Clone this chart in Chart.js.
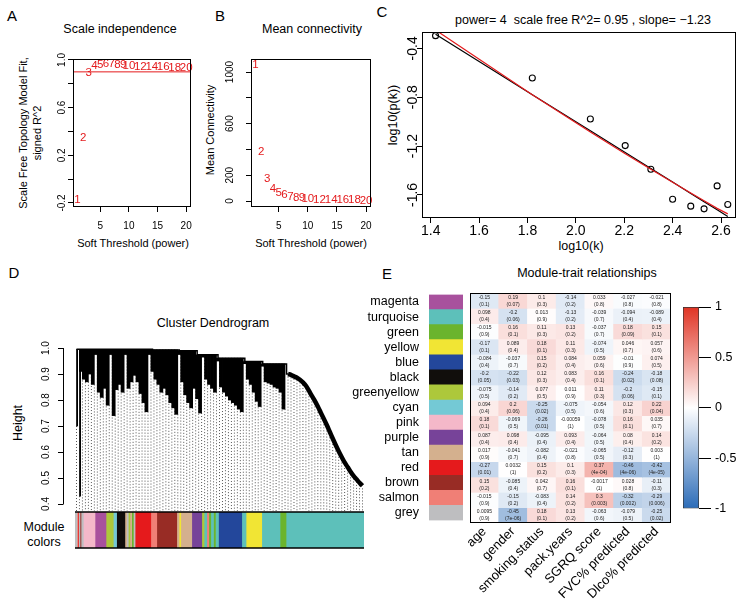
<!DOCTYPE html>
<html>
<head>
<meta charset="utf-8">
<script src="https://cdn.jsdelivr.net/npm/chart.js@4.4.1/dist/chart.umd.min.js"></script>
<style>
  html, body { margin: 0; padding: 0; background: #fff; }
  #page { position: relative; width: 750px; height: 606px; overflow: hidden; font-family: 'Liberation Sans', Arial, sans-serif; color: #000; }
  canvas { position: absolute; }
  .t { position: absolute; transform: translate(-50%, -50%); white-space: nowrap; font-size: 12.5px; line-height: 1; }
  .v { transform: translate(-50%, -50%) rotate(-90deg); }
  .lab { font-size: 15px; }
  .ax { font-size: 11px; }
</style>
</head>
<body>
<div id="page">
  <div class="t lab" style="left:12px;top:15px">A</div>
  <div class="t lab" style="left:220px;top:15px">B</div>
  <div class="t lab" style="left:382px;top:11px">C</div>
  <div class="t lab" style="left:14px;top:272px">D</div>
  <div class="t lab" style="left:387px;top:273px">E</div>

  <div class="t" style="left:120px;top:29px">Scale independence</div>
  <div class="t" style="left:312px;top:29px">Mean connectivity</div>
  <div class="t" style="left:583px;top:20px">power= 4&nbsp; scale free R^2= 0.95 , slope= −1.23</div>
  <div class="t" style="left:213px;top:323px">Cluster Dendrogram</div>
  <div class="t" style="left:587px;top:273px">Module-trait relationships</div>

  <div class="t ax" style="left:133px;top:243px">Soft Threshold (power)</div>
  <div class="t ax v" style="left:23px;top:133px">Scale Free Topology Model Fit,</div>
  <div class="t ax v" style="left:37px;top:133px">signed R^2</div>
  <div class="t ax" style="left:311px;top:243px">Soft Threshold (power)</div>
  <div class="t ax v" style="left:210px;top:130px">Mean Connectivity</div>
  <div class="t" style="left:581px;top:246px">log10(k)</div>
  <div class="t v" style="left:393px;top:115px">log10(p(k))</div>
  <div class="t v" style="left:18px;top:423px">Height</div>
  <div class="t" style="left:44px;top:527px">Module</div>
  <div class="t" style="left:44px;top:542px">colors</div>
</div>
<script>
// ---- A / B : soft threshold scan ----
const powers = [1, 2, 3, 4, 5, 6, 7, 8, 9, 10, 12, 14, 16, 18, 20];
const sftR2 = [-0.175, 0.35, 0.89, 0.95, 0.96, 0.965, 0.965, 0.96, 0.955, 0.95, 0.945, 0.94, 0.94, 0.935, 0.93];
const meanK = [1059, 382, 176, 98, 62, 45, 35, 28, 22, 17, 12, 9, 7, 6, 5];
const r2Cut = 0.9;
const powerTicks = [5, 10, 15, 20];
const aYTicks = [-0.2, 0, 0.2, 0.4, 0.6, 0.8, 1.0];
const aYLabels = ['-0.2', '', '0.2', '', '0.6', '', '1.0'];
const bYTicks = [0, 200, 400, 600, 800, 1000];
const bYLabels = ['0', '200', '', '600', '', '1000'];

// ---- C : scale free fit at power 4 ----
const logK = [1.42, 1.82, 2.06, 2.204, 2.31, 2.40, 2.475, 2.53, 2.584, 2.628];
const logPk = [-0.296, -0.643, -0.978, -1.196, -1.39, -1.635, -1.692, -1.714, -1.526, -1.679];
const fitLinear = [-0.285, -0.779, -1.075, -1.253, -1.384, -1.495, -1.588, -1.656, -1.722, -1.777];
const fitTrunc = [-0.25, -0.78, -1.085, -1.262, -1.39, -1.497, -1.585, -1.648, -1.71, -1.755];
const cXTicks = [1.4, 1.6, 1.8, 2.0, 2.2, 2.4, 2.6];
const cYTicks = [-1.6, -1.2, -0.8, -0.4];

// ---- D : dendrogram, leaves 0..96 in tree order ----
// merge height of each leaf (top) and height where the leaf ends (bottom)
const leafTop = [
  0.995, 0.995, 0.995, 0.995, 0.995, 0.995, 0.995, 0.995, 0.995, 0.995,
  0.995, 0.995, 0.995, 0.995, 0.995, 0.995, 0.995, 0.995, 0.995, 0.995,
  0.995, 0.995, 0.995, 0.995, 0.995, 0.995, 0.993, 0.993, 0.993, 0.993,
  0.993, 0.993, 0.993, 0.993, 0.993, 0.99, 0.99, 0.99, 0.99, 0.99,
  0.99, 0.974, 0.974, 0.974, 0.974, 0.974, 0.974, 0.974, 0.961, 0.961,
  0.961, 0.961, 0.961, 0.961, 0.961, 0.961, 0.961, 0.948, 0.948, 0.948,
  0.948, 0.948, 0.948, 0.939, 0.939, 0.939, 0.939, 0.939, 0.939, 0.939,
  0.939, 0.900, 0.897, 0.891, 0.886, 0.878, 0.868, 0.855, 0.836, 0.816,
  0.797, 0.775, 0.751, 0.728, 0.704, 0.678, 0.652, 0.627, 0.603, 0.581,
  0.560, 0.542, 0.524, 0.508, 0.495, 0.482, 0.470
];
const leafBottom = [
  0.70, 0.43, 0.91, 0.88, 0.87, 0.90, 0.86, 0.975, 0.83, 0.81,
  0.845, 0.78, 0.975, 0.74, 0.84, 0.86, 0.83, 0.975, 0.845, 0.87,
  0.895, 0.87, 0.825, 0.79, 0.755, 0.975, 0.91, 0.88, 0.86, 0.83,
  0.845, 0.82, 0.79, 0.77, 0.745, 0.975, 0.87, 0.82, 0.79, 0.77,
  0.845, 0.805, 0.75, 0.965, 0.88, 0.86, 0.845, 0.83, 0.95, 0.85,
  0.83, 0.815, 0.80, 0.79, 0.78, 0.765, 0.755, 0.94, 0.88, 0.86,
  0.83, 0.795, 0.775, 0.93, 0.87, 0.865, 0.86, 0.85, 0.845, 0.83,
  0.765, 0.89, 0.887, 0.881, 0.876, 0.868, 0.858, 0.845, 0.826, 0.806,
  0.787, 0.765, 0.741, 0.718, 0.694, 0.668, 0.642, 0.617, 0.593, 0.571,
  0.55, 0.532, 0.514, 0.498, 0.485, 0.472, 0.46
];
const thinLeaves = [0, 1];      // single long leaves at the far left
const trunkStart = 71;          // leaves from here on form the big turquoise branch
const dYTicks = [0.4, 0.5, 0.6, 0.7, 0.8, 0.9, 1.0];
const dYMin = 0.373, dYMax = 1.031;

// module colour strip under the tree (colour name, width in px of the strip)
const segColors = ['grey', 'salmon', 'red', 'grey', 'brown', 'grey', 'pink', 'magenta', 'greenyellow', 'cyan',
  'black', 'tan', 'grey', 'greenyellow', 'tan', 'green', 'grey', 'red', 'salmon', 'brown',
  'tan', 'yellow', 'tan', 'purple', 'greenyellow', 'turquoise', 'salmon', 'green', 'turquoise', 'green',
  'turquoise', 'blue', 'turquoise', 'yellow', 'turquoise', 'green', 'turquoise'];
const segWidths = [2, 1, 0.7, 1.3, 1, 2.3, 11.7, 11, 7.3, 3.3,
  8.3, 1.7, 1.7, 1.7, 1.7, 1.7, 1.7, 15.7, 6, 20,
  2.3, 1.7, 11, 10, 2.3, 2.7, 2, 2, 2.7, 2,
  3, 23.3, 4.3, 15.7, 18.3, 6, 78];

// ---- E : module-trait correlations ----
const modules = ['magenta', 'turquoise', 'green', 'yellow', 'blue', 'black', 'greenyellow', 'cyan',
  'pink', 'purple', 'tan', 'red', 'brown', 'salmon', 'grey'];
const moduleColors = ['#A8519D', '#5DC0BA', '#6BB42D', '#F1E534', '#23479B', '#110E0C', '#ADC83B', '#74C9D5',
  '#F4B8C9', '#774399', '#D4B08E', '#E51A1C', '#982C25', '#F07F76', '#BEBEC0'];
const traits = ['age', 'gender', 'smoking.status', 'pack.years', 'SGRQ score', 'FVC% predicted', 'Dlco% predicted'];
const corr = [
  [-0.15, 0.19, 0.1, -0.14, 0.033, -0.027, -0.021],
  [0.098, -0.2, 0.013, -0.13, -0.039, -0.094, -0.089],
  [-0.015, 0.16, 0.11, 0.13, -0.037, 0.18, 0.15],
  [-0.17, 0.089, 0.18, 0.11, -0.074, 0.046, 0.057],
  [-0.084, -0.037, 0.15, 0.084, 0.059, -0.01, 0.074],
  [-0.2, -0.22, 0.12, 0.083, 0.16, -0.24, -0.18],
  [-0.075, -0.14, 0.077, 0.011, 0.11, -0.2, -0.15],
  [0.094, 0.2, -0.25, -0.075, -0.054, 0.12, 0.22],
  [0.18, -0.069, -0.26, -0.00059, -0.078, 0.16, 0.035],
  [0.087, 0.098, -0.095, 0.093, -0.064, 0.08, 0.14],
  [0.017, -0.041, -0.082, -0.021, -0.065, -0.12, 0.003],
  [-0.27, 0.0032, 0.15, 0.1, 0.37, -0.46, -0.42],
  [0.15, -0.085, 0.042, 0.16, -0.0017, 0.028, -0.11],
  [-0.015, -0.15, -0.083, 0.14, 0.3, -0.32, -0.29],
  [0.0095, -0.45, 0.18, 0.13, -0.063, -0.079, -0.25]
];
const pText = [
  ['(0.1)', '(0.07)', '(0.3)', '(0.2)', '(0.8)', '(0.8)', '(0.8)'],
  ['(0.4)', '(0.06)', '(0.9)', '(0.2)', '(0.7)', '(0.4)', '(0.4)'],
  ['(0.9)', '(0.1)', '(0.3)', '(0.2)', '(0.7)', '(0.09)', '(0.1)'],
  ['(0.1)', '(0.4)', '(0.1)', '(0.3)', '(0.5)', '(0.7)', '(0.6)'],
  ['(0.4)', '(0.7)', '(0.2)', '(0.4)', '(0.6)', '(0.9)', '(0.5)'],
  ['(0.05)', '(0.03)', '(0.3)', '(0.4)', '(0.1)', '(0.02)', '(0.08)'],
  ['(0.5)', '(0.2)', '(0.5)', '(0.9)', '(0.3)', '(0.06)', '(0.1)'],
  ['(0.4)', '(0.06)', '(0.02)', '(0.5)', '(0.6)', '(0.3)', '(0.04)'],
  ['(0.1)', '(0.5)', '(0.01)', '(1)', '(0.5)', '(0.1)', '(0.7)'],
  ['(0.4)', '(0.4)', '(0.4)', '(0.4)', '(0.5)', '(0.4)', '(0.2)'],
  ['(0.9)', '(0.7)', '(0.4)', '(0.8)', '(0.5)', '(0.3)', '(1)'],
  ['(0.01)', '(1)', '(0.2)', '(0.3)', '(4e-04)', '(4e-06)', '(4e-05)'],
  ['(0.2)', '(0.4)', '(0.7)', '(0.1)', '(1)', '(0.8)', '(0.3)'],
  ['(0.9)', '(0.2)', '(0.4)', '(0.2)', '(0.003)', '(0.002)', '(0.006)'],
  ['(0.9)', '(7e-06)', '(0.1)', '(0.2)', '(0.6)', '(0.5)', '(0.02)']
];
const legendTicks = [-1, -0.5, 0, 0.5, 1];

const FONT = "'Liberation Sans', Arial, sans-serif";
const RED = '#E41A1C';
const heatNeg = [44, 108, 184], heatPos = [224, 52, 36];

Chart.defaults.font.family = FONT;
Chart.defaults.color = '#000';
Chart.defaults.animation = false;
Chart.defaults.events = [];
Chart.defaults.plugins.legend.display = false;
Chart.defaults.plugins.tooltip.enabled = false;

function heatColor(v){
  const end = v < 0 ? heatNeg : heatPos;
  const t = Math.min(1, Math.abs(v));
  return 'rgb(' + end.map(k => Math.round(255 + (k - 255) * t)).join(',') + ')';
}

function canvasAt(left, top, w, h){
  const c = document.createElement('canvas');
  c.width = w; c.height = h;
  c.style.left = left + 'px'; c.style.top = top + 'px';
  c.style.width = w + 'px'; c.style.height = h + 'px';
  document.getElementById('page').appendChild(c);
  return c;
}

// R-like extras: box, rotated y labels, free axis line, point text, cell text
const rPlot = {
  id: 'rPlot',
  afterDatasetsDraw(chart, args, o){
    const ctx = chart.ctx;
    if(o.pointText){
      const pt = o.pointText;
      const meta = chart.getDatasetMeta(pt.dataset);
      ctx.save();
      ctx.fillStyle = pt.color;
      ctx.font = pt.size + 'px ' + FONT;
      ctx.textAlign = 'center'; ctx.textBaseline = 'middle';
      meta.data.forEach((el, i) => ctx.fillText(pt.texts[i], el.x, el.y));
      ctx.restore();
    }
    if(o.cellText){
      const ct = o.cellText;
      ctx.save();
      ctx.font = ct.size + 'px ' + FONT;
      ctx.fillStyle = '#222';
      ctx.textAlign = 'center'; ctx.textBaseline = 'middle';
      chart.data.datasets.forEach((ds, r) => {
        chart.getDatasetMeta(r).data.forEach((el, c) => {
          const yc = (el.y + el.base) / 2;
          ctx.fillText(String(ct.corr[r][c]), el.x, yc - 3.3);
          ctx.fillText(ct.p[r][c], el.x, yc + 3.7);
        });
      });
      ctx.restore();
    }
  },
  afterDraw(chart, args, o){
    const ctx = chart.ctx, ca = chart.chartArea;
    ctx.save();
    ctx.strokeStyle = '#000'; ctx.lineWidth = 1;
    if(o.box){
      ctx.strokeRect(Math.round(ca.left) + 0.5, Math.round(ca.top) + 0.5,
        Math.round(ca.right - ca.left) - 1, Math.round(ca.bottom - ca.top) - 1);
    }
    if(o.hLines){
      ctx.lineWidth = o.hLines;
      ctx.beginPath();
      ctx.moveTo(ca.left, ca.top); ctx.lineTo(ca.right, ca.top);
      ctx.moveTo(ca.left, ca.bottom); ctx.lineTo(ca.right, ca.bottom);
      ctx.stroke();
    }
    if(o.axisLine){
      const a = o.axisLine, s = chart.scales.y;
      ctx.beginPath();
      ctx.moveTo(a.x + 0.5, s.getPixelForValue(a.from));
      ctx.lineTo(a.x + 0.5, s.getPixelForValue(a.to));
      a.values.forEach(v => {
        const y = Math.round(s.getPixelForValue(v)) + 0.5;
        ctx.moveTo(a.x + 0.5, y); ctx.lineTo(a.x - a.tick, y);
      });
      ctx.stroke();
    }
    if(o.yLabels){
      const yl = o.yLabels, s = chart.scales.y;
      ctx.fillStyle = '#000';
      ctx.font = yl.size + 'px ' + FONT;
      ctx.textAlign = 'center'; ctx.textBaseline = 'middle';
      yl.values.forEach((v, i) => {
        const txt = yl.texts[i];
        if(!txt) return;
        ctx.save();
        ctx.translate(yl.x, s.getPixelForValue(v));
        ctx.rotate(-Math.PI / 2);
        ctx.fillText(txt, 0, 0);
        ctx.restore();
      });
    }
    ctx.restore();
  }
};
Chart.register(rPlot);

function rAxis(tickValues, extra){
  return Object.assign({
    type: 'linear',
    afterBuildTicks: s => { s.ticks = tickValues.map(v => ({ value: v })); },
    grid: { display: true, drawOnChartArea: false, drawTicks: true, tickLength: 5, color: '#000', lineWidth: 1 },
    border: { display: false }
  }, extra);
}

// ---- A ----
new Chart(canvasAt(0, 0, 200, 255), {
  type: 'scatter',
  data: { datasets: [
    { data: powers.map((p, i) => ({ x: p, y: sftR2[i] })), pointRadius: 0 },
    { data: [{ x: 0.24, y: r2Cut }, { x: 20.76, y: r2Cut }], showLine: true, borderColor: RED, borderWidth: 1, pointRadius: 0 }
  ]},
  options: {
    responsive: false,
    layout: { padding: { left: 0, top: 59, right: 7, bottom: 0 } },
    scales: {
      x: rAxis(powerTicks, { min: 0.24, max: 20.76, ticks: { font: { size: 10 }, padding: 8 }, afterFit: s => { s.height = 48; } }),
      y: rAxis(aYTicks, { min: -0.234, max: 1.008, ticks: { display: false }, afterFit: s => { s.width = 73; } })
    },
    plugins: { rPlot: {
      box: true,
      pointText: { dataset: 0, texts: powers.map(String), color: RED, size: 11.5 },
      yLabels: { x: 62, size: 10, values: aYTicks, texts: aYLabels }
    }}
  }
});

// ---- B ----
new Chart(canvasAt(190, 0, 190, 255), {
  type: 'scatter',
  data: { datasets: [
    { data: powers.map((p, i) => ({ x: p, y: meanK[i] })), pointRadius: 0 }
  ]},
  options: {
    responsive: false,
    layout: { padding: { left: 0, top: 59, right: 9, bottom: 0 } },
    scales: {
      x: rAxis(powerTicks, { min: 0.24, max: 20.76, ticks: { font: { size: 10 }, padding: 8 }, afterFit: s => { s.height = 48; } }),
      y: rAxis(bYTicks, { min: -46, max: 1101, ticks: { display: false }, afterFit: s => { s.width = 61; } })
    },
    plugins: { rPlot: {
      box: true,
      pointText: { dataset: 0, texts: powers.map(String), color: RED, size: 11.5 },
      yLabels: { x: 40, size: 10, values: bYTicks, texts: bYLabels }
    }}
  }
});

// ---- C ----
new Chart(canvasAt(370, 0, 380, 258), {
  type: 'scatter',
  data: { datasets: [
    { data: logK.map((x, i) => ({ x: x, y: fitTrunc[i] })), showLine: true, borderColor: RED, borderWidth: 1.2, pointRadius: 0 },
    { data: logK.map((x, i) => ({ x: x, y: fitLinear[i] })), showLine: true, borderColor: '#000', borderWidth: 1.2, pointRadius: 0 },
    { data: logK.map((x, i) => ({ x: x, y: logPk[i] })), pointRadius: 3, borderColor: '#000', borderWidth: 1.1, backgroundColor: 'rgba(0,0,0,0)' }
  ]},
  options: {
    responsive: false,
    layout: { padding: { left: 0, top: 32, right: 14, bottom: 0 } },
    scales: {
      x: rAxis(cXTicks, { min: 1.364, max: 2.662, ticks: { font: { size: 14 }, padding: 0, callback: v => v.toFixed(1) }, afterFit: s => { s.height = 40; } }),
      y: rAxis(cYTicks, { min: -1.789, max: -0.266, ticks: { display: false }, afterFit: s => { s.width = 52; } })
    },
    plugins: { rPlot: {
      box: true,
      yLabels: { x: 43, size: 14, values: cYTicks, texts: cYTicks.map(v => v.toFixed(1)) }
    }}
  }
});

// ---- D : dendrogram ----
const leafIdx = leafTop.map((t, i) => i);
const guidePts = [];
leafIdx.forEach(i => { guidePts.push({ x: i, y: leafBottom[i] }, { x: i, y: dYMin }, { x: i, y: null }); });
const massIdx = leafIdx.filter(i => i < trunkStart && thinLeaves.indexOf(i) < 0);
const trunkIdx = leafIdx.filter(i => i >= trunkStart);
new Chart(canvasAt(0, 280, 380, 235), {
  type: 'bar',
  data: { datasets: [
    { type: 'line', data: leafIdx.filter(i => i <= trunkStart).map(i => ({ x: i, y: leafTop[i] })),
      stepped: 'middle', borderColor: '#000', borderWidth: 1.5, pointRadius: 0 },
    { type: 'line', data: trunkIdx.map(i => ({ x: i, y: leafTop[i] })),
      borderColor: '#000', borderWidth: 4.5, tension: 0.3, pointRadius: 0 },
    { type: 'bar', data: massIdx.map(i => ({ x: i, y: [leafBottom[i], leafTop[i]] })),
      backgroundColor: '#000', barThickness: 3.1 },
    { type: 'bar', data: thinLeaves.map(i => ({ x: i, y: [leafBottom[i], leafTop[i]] })),
      backgroundColor: '#000', barThickness: 1.2 },
    { type: 'line', data: guidePts, borderColor: '#555', borderWidth: 1, borderDash: [1, 2], pointRadius: 0, spanGaps: false }
  ]},
  options: {
    responsive: false,
    layout: { padding: { left: 75, top: 60, right: 16, bottom: 4 } },
    scales: {
      x: { type: 'linear', display: false, min: -0.5, max: 96.5, offset: false },
      y: { type: 'linear', display: false, min: dYMin, max: dYMax }
    },
    plugins: { rPlot: {
      axisLine: { x: 63, from: 0.4, to: 1.0, tick: 5, values: dYTicks },
      yLabels: { x: 46, size: 10, values: dYTicks, texts: dYTicks.map(v => v.toFixed(1)) }
    }}
  }
});

// module colour strip
new Chart(canvasAt(70, 506, 300, 48), {
  type: 'bar',
  data: { labels: [''], datasets: segColors.map((name, k) => ({
    data: [segWidths[k]],
    backgroundColor: moduleColors[modules.indexOf(name)],
    barPercentage: 1, categoryPercentage: 1, stack: 's'
  }))},
  options: {
    indexAxis: 'y',
    responsive: false,
    layout: { padding: { left: 5, top: 6, right: 6, bottom: 6 } },
    scales: {
      x: { display: false, stacked: true, min: 0, max: segWidths.reduce((a, b) => a + b, 0) },
      y: { display: false, stacked: true }
    },
    plugins: { rPlot: { hLines: 1.3 } }
  }
});

// ---- E : heatmap ----
new Chart(canvasAt(440, 285, 250, 321), {
  type: 'bar',
  data: { labels: traits, datasets: modules.map((m, r) => ({
    data: traits.map(() => [r, r + 1]),
    backgroundColor: corr[r].map(heatColor),
    barPercentage: 1, categoryPercentage: 1, grouped: false, borderWidth: 0
  }))},
  options: {
    responsive: false,
    layout: { padding: { left: 30, top: 8, right: 19, bottom: 0 } },
    scales: {
      x: { grid: { display: false }, border: { display: false },
           ticks: { minRotation: 45, maxRotation: 45, autoSkip: false, font: { size: 13 }, padding: -7 },
           afterFit: s => { s.height = 83; } },
      y: { display: false, min: 0, max: 15, reverse: true }
    },
    plugins: { rPlot: { box: true, cellText: { corr: corr, p: pText, size: 5 } } }
  }
});

// module colour column with row names
new Chart(canvasAt(345, 285, 123, 245), {
  type: 'bar',
  data: { labels: modules, datasets: [{
    data: modules.map(() => 1), backgroundColor: moduleColors, barPercentage: 1, categoryPercentage: 1
  }]},
  options: {
    indexAxis: 'y',
    responsive: false,
    layout: { padding: { left: 0, top: 8, right: 5, bottom: 7 } },
    scales: {
      x: { display: false, min: 0, max: 1 },
      y: { grid: { display: false }, border: { display: false },
           ticks: { font: { size: 12.5 }, padding: 2, autoSkip: false },
           afterFit: s => { s.width = 84; } }
    }
  }
});

// colour key
new Chart(canvasAt(675, 295, 75, 225), {
  type: 'bar',
  data: { labels: [''], datasets: [{
    data: [[-1, 1]],
    backgroundColor: c => {
      const ca = c.chart.chartArea;
      if(!ca) return '#fff';
      const g = c.chart.ctx.createLinearGradient(0, ca.bottom, 0, ca.top);
      g.addColorStop(0, heatColor(-1));
      g.addColorStop(0.5, heatColor(0));
      g.addColorStop(1, heatColor(1));
      return g;
    },
    borderColor: '#333', borderWidth: 1, borderSkipped: false,
    barPercentage: 1, categoryPercentage: 1
  }]},
  options: {
    responsive: false,
    layout: { padding: { left: 8, top: 12, right: 0, bottom: 10 } },
    scales: {
      x: { display: false },
      y: rAxis(legendTicks, { position: 'right', min: -1, max: 1,
           grid: { display: true, drawOnChartArea: false, drawTicks: true, tickLength: 12, color: '#000' },
           ticks: { font: { size: 12.5 }, padding: 4, callback: v => String(v) },
           afterFit: s => { s.width = 51; } })
    }
  }
});
</script>
</body>
</html>
